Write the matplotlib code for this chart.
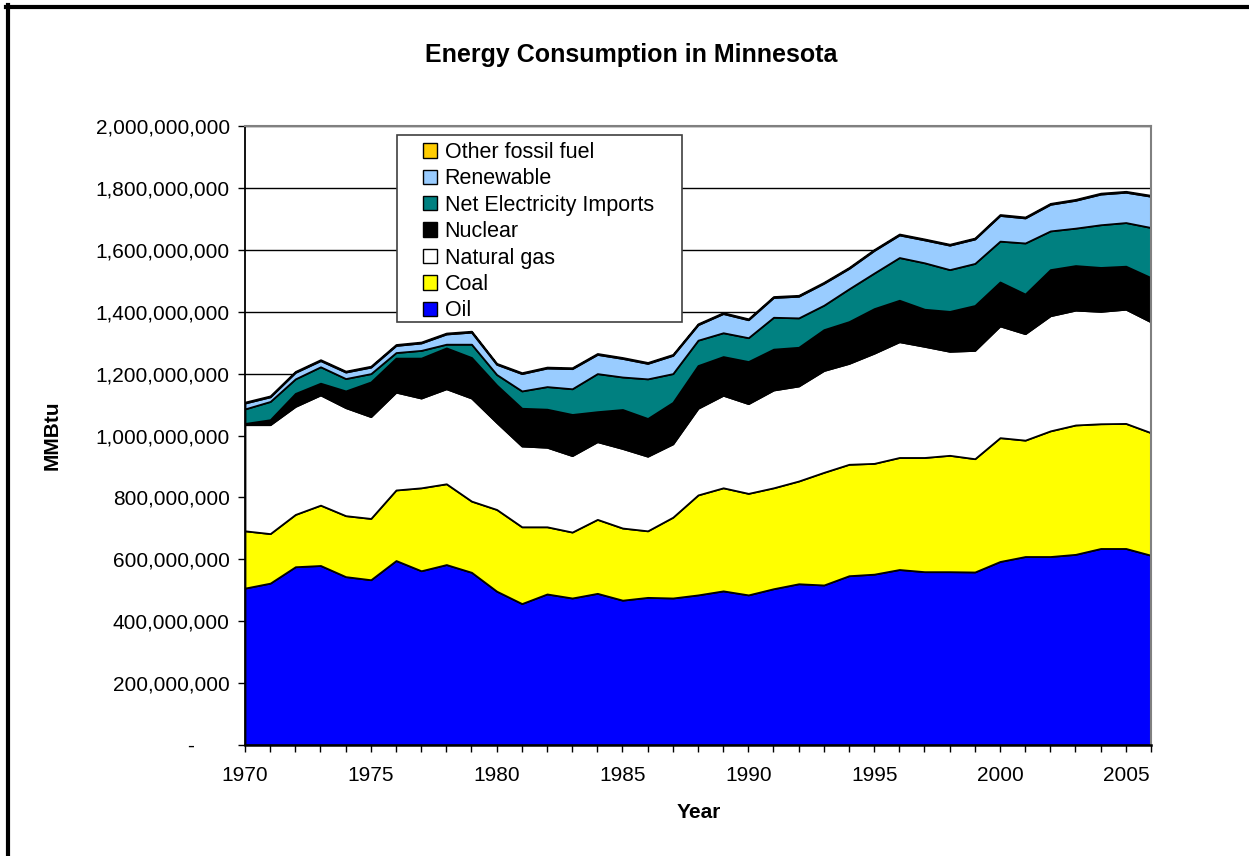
import matplotlib
matplotlib.use("Agg")
import matplotlib.pyplot as plt
from matplotlib.lines import Line2D
from matplotlib.patches import Rectangle, Patch
from matplotlib.ticker import FuncFormatter, MultipleLocator
import numpy as np

plt.rcParams['font.family'] = ['Liberation Sans', 'DejaVu Sans']

# years and consumption by source (million MMBtu)
years = list(range(1970, 2007))

oil = [507, 523, 576, 580, 544, 534, 596, 563, 583, 558, 497, 457, 488, 475,
       490, 468, 477, 475, 485, 498, 485, 505, 521, 517, 547, 552, 567, 560,
       560, 559, 593, 609, 609, 616, 635, 635, 613]
coal = [185, 160, 169, 195, 197, 198, 228, 268, 261, 230, 264, 248, 217, 213,
        239, 233, 215, 261, 323, 333, 328, 326, 332, 364, 360, 358, 362, 369,
        376, 366, 400, 376, 406, 418, 403, 404, 396]
natural_gas = [343, 352, 349, 356, 349, 329, 316, 290, 307, 333, 281, 261, 257,
               247, 251, 257, 241, 237, 280, 299, 290, 316, 307, 329, 326, 356,
               374, 359, 336, 350, 361, 344, 372, 371, 363, 369, 358]
nuclear = [4, 16, 42, 38, 54, 112, 110, 129, 132, 131, 121, 122, 123, 133, 97,
           126, 122, 134, 138, 125, 136, 132, 125, 132, 135, 144, 134, 120, 129,
           145, 142, 128, 149, 144, 142, 139, 143]
net_imports = [47, 59, 47, 53, 40, 27, 18, 25, 12, 43, 34, 56, 73, 83, 123, 105,
               128, 93, 82, 77, 77, 103, 95, 79, 106, 115, 138, 150, 135, 136,
               132, 165, 125, 121, 138, 141, 162]
renewable = [19, 15, 21, 20, 21, 21, 23, 24, 33, 39, 33, 56, 60, 65, 62, 60, 50,
             59, 50, 62, 58, 64, 70, 71, 66, 73, 73, 74, 79, 79, 83, 81, 86, 90,
             99, 98, 101]
other_fossil = [3] * 37

labels = ['Oil', 'Coal', 'Natural gas', 'Nuclear', 'Net Electricity Imports',
          'Renewable', 'Other fossil fuel']
colors = ['#0000FF', '#FFFF00', '#FFFFFF', '#000000', '#008080', '#99CCFF',
          '#FFCC00']

series = [oil, coal, natural_gas, nuclear, net_imports, renewable, other_fossil]
series = [np.array(s) * 1e6 for s in series]

fig = plt.figure(figsize=(12.49, 8.56), dpi=100)
ax = fig.add_axes([245/1249, 1-745/856, 906/1249, 619/856])

ax.stackplot(years, *series, colors=colors, edgecolor='black', linewidth=1.3,
             zorder=2)

ax.set_xlim(1970, 2006)
ax.set_ylim(0, 2e9)
ax.yaxis.set_major_locator(MultipleLocator(2e8))
ax.xaxis.set_major_locator(MultipleLocator(1))


def yfmt(v, pos):
    if v == 0:
        return '-      '
    return '{:,.0f}'.format(v)


def xfmt(v, pos):
    if int(round(v)) % 5 == 0:
        return str(int(round(v)))
    return ''


ax.yaxis.set_major_formatter(FuncFormatter(yfmt))
ax.xaxis.set_major_formatter(FuncFormatter(xfmt))
ax.tick_params(axis='both', labelsize=15, direction='out', length=5,
               width=1, color='black')
ax.tick_params(axis='x', pad=10)
ax.tick_params(axis='y', pad=6)

ax.set_axisbelow(True)
ax.grid(axis='y', color='black', linewidth=1)
ax.spines['top'].set_color('#808080')
ax.spines['right'].set_color('#808080')
ax.spines['top'].set_linewidth(1.5)
ax.spines['right'].set_linewidth(1.5)
ax.spines['left'].set_linewidth(1.3)
ax.spines['bottom'].set_linewidth(1.8)

# legend box
box = Rectangle((152/906, (745-322)/619), 285/906, 187/619,
                transform=ax.transAxes, facecolor='white', edgecolor='#404040',
                linewidth=1.2, zorder=4)
ax.add_patch(box)
handles = [Patch(facecolor=c, edgecolor='black', linewidth=1)
           for c in colors[::-1]]
leg = ax.legend(handles, labels[::-1], loc='upper left',
                bbox_to_anchor=(178/906, (745-142)/619), frameon=False,
                fontsize=15.5, handlelength=0.65, handleheight=0.65,
                handletextpad=0.35, labelspacing=0.25, borderpad=0,
                borderaxespad=0)
leg.set_zorder(5)

fig.text(631/1249, 1-55/856, 'Energy Consumption in Minnesota',
         ha='center', va='center', fontsize=18, fontweight='bold')
fig.text(52/1249, 1-435/856, 'MMBtu', ha='center', va='center',
         rotation=90, fontsize=15, fontweight='bold')
fig.text(699/1249, 1-813/856, 'Year', ha='center', va='center',
         fontsize=15, fontweight='bold')

# outer chart border (top and left edges visible)
fig.add_artist(Line2D([6/1249, 1], [1-7/856, 1-7/856], color='black',
                      linewidth=3, transform=fig.transFigure))
fig.add_artist(Line2D([8/1249, 8/1249], [0, 1-5/856], color='black',
                      linewidth=3, transform=fig.transFigure))

fig.savefig('out.png', dpi=100)
